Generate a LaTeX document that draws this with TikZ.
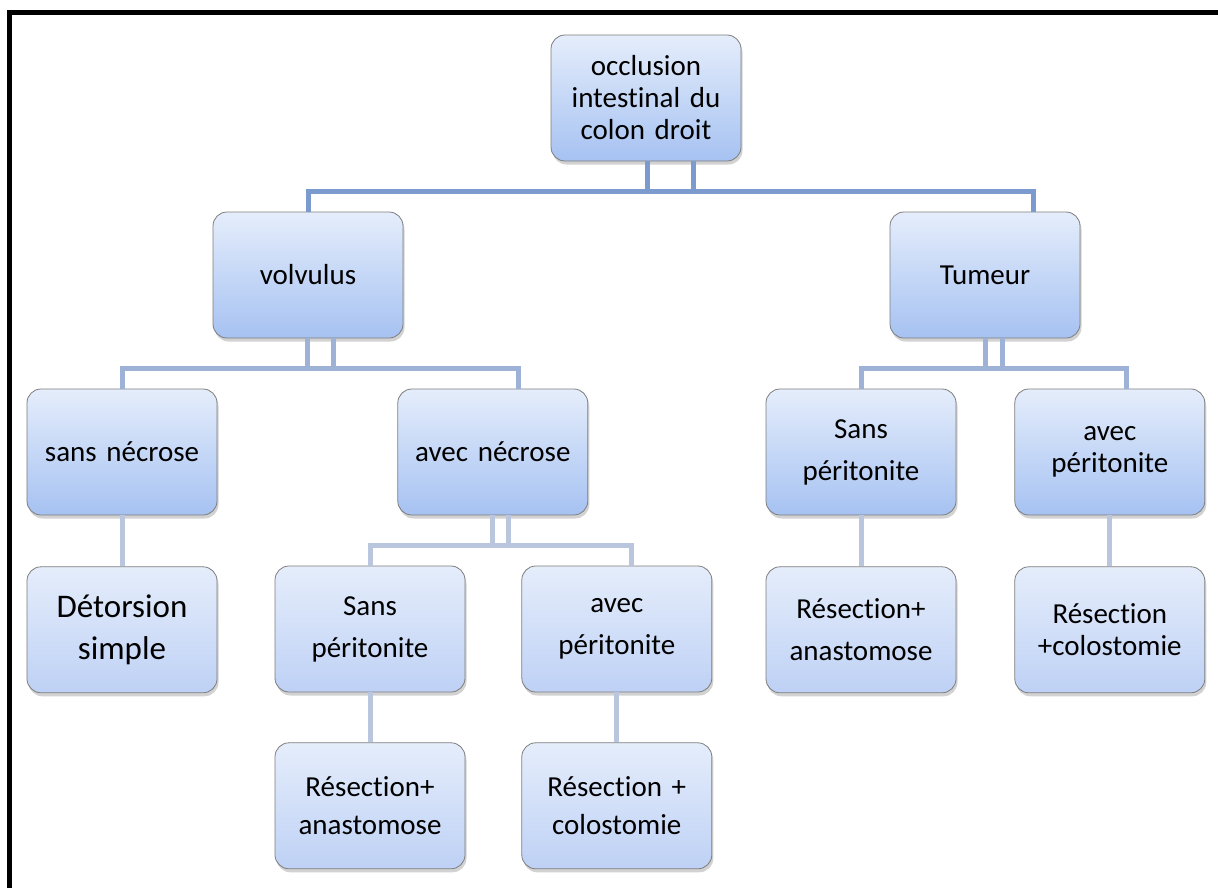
\documentclass[tikz,border=0pt]{standalone}
\usepackage{fontspec}
\setmainfont{Carlito}[Ligatures=NoCommon]
\usetikzlibrary{positioning,calc,shadows}

\definecolor{boxtop}{RGB}{229,237,251}
\definecolor{boxbot}{RGB}{166,194,242}
\definecolor{leafbot}{RGB}{190,209,245}
\definecolor{boxline}{RGB}{125,125,125}
\definecolor{clinkA}{RGB}{123,154,206}
\definecolor{clinkB}{RGB}{157,178,214}
\definecolor{clinkC}{RGB}{185,198,222}

\begin{document}
\begin{tikzpicture}[x=1bp, y=-1bp,
    box/.style={rectangle, rounded corners=14bp, draw=boxline, line width=0.8bp, top color=boxtop, bottom color=boxbot, minimum width=190bp, minimum height=126bp, text width=180bp, inner sep=3bp, align=center, font=\fontsize{29bp}{38bp}\selectfont, drop shadow={shadow xshift=1.5bp, shadow yshift=-3.5bp, opacity=.25, fill=black!70}},
    leaf/.style={box, bottom color=leafbot},
    tight/.style={font=\fontsize{29bp}{32bp}\selectfont},
    loose/.style={font=\fontsize{29bp}{42bp}\selectfont},
    linkA/.style={draw=clinkA, line width=5bp},
    linkB/.style={draw=clinkB, line width=5bp},
    linkC/.style={draw=clinkC, line width=5bp}
]
\useasboundingbox (0,0) rectangle (1218,888);

% Frame
\draw[line width=5bp] (9.5,888) -- (9.5,12.5) -- (1218,12.5);

% Top levels
\node[box, tight] (occl) at (646,98) {occlusion\\intestinal du\\colon droit};
\node[box] (volv) at (308,275) {volvulus};
\node[box] (tum) at (985,275) {Tumeur};

% Third level
\node[box] (sansnec) at (122,452) {sans nécrose};
\node[box, right=180bp of sansnec] (avecnec) {avec nécrose};
\node[box, loose] (sansper) at (861,452) {Sans\\péritonite};
\node[box, tight, right=58bp of sansper] (avecper) {avec\\péritonite};

% Lower levels
\node[leaf, font=\fontsize{33bp}{42bp}\selectfont, below=51bp of sansnec] (detor) {Détorsion\\simple};
\node[leaf, loose] (sanspm) at (370,629) {Sans\\péritonite};
\node[leaf, loose, right=56bp of sanspm] (avecpm) {avec\\péritonite};
\node[leaf, loose, below=51bp of sansper] (resanR) {Résection+\\anastomose};
\node[leaf, tight, below=51bp of avecper] (rescoR) {Résection\\+colostomie};
\node[leaf, below=50bp of sanspm] (resanM) {Résection+\\anastomose};
\node[leaf, below=50bp of avecpm] (rescoM) {Résection +\\colostomie};

% Connectors
\coordinate (barA) at ($(occl.south)+(0,30)$);
\draw[linkA] ([xshift=1bp]occl.south) -- ([xshift=1bp]barA);
\draw[linkA] ([xshift=47bp]occl.south) -- ([xshift=47bp]barA);
\draw[linkA] (volv.north) |- (barA) -| ([xshift=48bp]tum.north);

\coordinate (barB) at ($(volv.south)+(0,30)$);
\draw[linkB] ([xshift=-1bp]volv.south) -- ([xshift=-1bp]barB);
\draw[linkB] ([xshift=25bp]volv.south) -- ([xshift=25bp]barB);
\draw[linkB] (sansnec.north) |- (barB) -| ([xshift=26bp]avecnec.north);

\coordinate (barC) at ($(tum.south)+(0,30)$);
\draw[linkB] (tum.south) -- (barC);
\draw[linkB] ([xshift=17bp]tum.south) -- ([xshift=17bp]barC);
\draw[linkB] (sansper.north) |- (barC) -| ([xshift=17bp]avecper.north);

\coordinate (barD) at ($(avecnec.south)+(0,30)$);
\draw[linkC] (avecnec.south) -- (barD);
\draw[linkC] ([xshift=16bp]avecnec.south) -- ([xshift=16bp]barD);
\draw[linkC] (sanspm.north) |- (barD) -| ([xshift=15bp]avecpm.north);

\draw[linkC] (sansnec.south) -- (detor.north);
\draw[linkC] (sansper.south) -- (resanR.north);
\draw[linkC] (avecper.south) -- (rescoR.north);
\draw[linkC] (sanspm.south) -- (resanM.north);
\draw[linkC] (avecpm.south) -- (rescoM.north);

\end{tikzpicture}
\end{document}
